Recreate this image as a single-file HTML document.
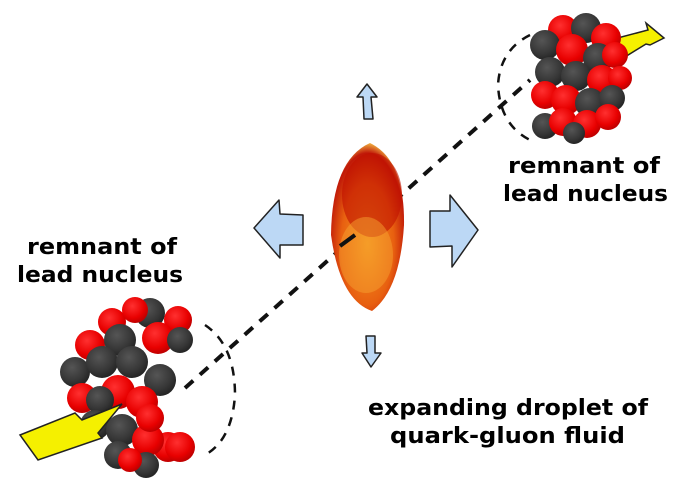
<!DOCTYPE html>
<html><head><meta charset="utf-8"><style>
html,body{margin:0;padding:0;background:#fff}
svg{display:block}
text{font-family:"DejaVu Sans","Liberation Sans",sans-serif;font-weight:bold;font-size:22px;fill:#000}
</style></head><body>
<svg width="677" height="491" viewBox="0 0 677 491">
<defs>
<radialGradient id="r" cx="40%" cy="35%" r="65%"><stop offset="0" stop-color="#ff3030"/><stop offset="0.7" stop-color="#e80000"/><stop offset="1" stop-color="#c00000"/></radialGradient>
<radialGradient id="k" cx="40%" cy="35%" r="65%"><stop offset="0" stop-color="#555"/><stop offset="0.7" stop-color="#363636"/><stop offset="1" stop-color="#252525"/></radialGradient>
<radialGradient id="d" cx="50%" cy="60%" r="60%"><stop offset="0" stop-color="#f59a20"/><stop offset="0.6" stop-color="#e86010"/><stop offset="0.9" stop-color="#c01808"/><stop offset="1" stop-color="#f0b040"/></radialGradient>
</defs>
<line x1="185" y1="388" x2="530" y2="80" stroke="#111" stroke-width="4" stroke-dasharray="11,9"/>
<path d="M370,143 Q405,160 404,225 Q400,290 372,311 Q340,300 331,235 Q332,160 370,143 Z" fill="url(#d)"/>
<ellipse cx="372" cy="195" rx="30" ry="42" fill="#c01000" opacity="0.6"/>
<ellipse cx="366" cy="255" rx="27" ry="38" fill="#f5a030" opacity="0.5"/>
<line x1="340" y1="246" x2="355" y2="235" stroke="#111" stroke-width="4"/>
<g fill="#bcd8f5" stroke="#222" stroke-width="1.5" stroke-linejoin="round">
<path d="M367,84 L377,97 L371,97 L373,119 L364,119 L363,97 L357,97 Z"/>
<path d="M366,336 L375,336 L375,353 L381,353 L371,367 L362,353 L367,353 Z"/>
<path d="M254,228 L279,200 L280,214 L303,215 L303,245 L280,245 L280,258 Z"/>
<path d="M430,211 L450,211 L450,195 L478,230 L452,267 L452,246 L430,247 Z"/>
</g>
<path d="M530,35 Q500,50 498,85 Q500,125 530,140" fill="none" stroke="#111" stroke-width="2.5" stroke-dasharray="9,8"/>
<path d="M610,40 L648,30 L646,23 L664,38 L650,45 L646,44 L620,60 Z" fill="#f5f000" stroke="#222" stroke-width="1.5"/>
<g>
<circle cx="563" cy="30" r="15" fill="url(#r)"/><circle cx="586" cy="28" r="15" fill="url(#k)"/><circle cx="606" cy="38" r="15" fill="url(#r)"/>
<circle cx="545" cy="45" r="15" fill="url(#k)"/><circle cx="572" cy="50" r="16" fill="url(#r)"/><circle cx="598" cy="58" r="15" fill="url(#k)"/><circle cx="615" cy="55" r="13" fill="url(#r)"/>
<circle cx="550" cy="72" r="15" fill="url(#k)"/><circle cx="576" cy="76" r="15" fill="url(#k)"/><circle cx="602" cy="80" r="15" fill="url(#r)"/><circle cx="620" cy="78" r="12" fill="url(#r)"/>
<circle cx="545" cy="95" r="14" fill="url(#r)"/><circle cx="566" cy="100" r="15" fill="url(#r)"/><circle cx="590" cy="103" r="15" fill="url(#k)"/><circle cx="612" cy="98" r="13" fill="url(#k)"/>
<circle cx="545" cy="126" r="13" fill="url(#k)"/><circle cx="563" cy="122" r="14" fill="url(#r)"/><circle cx="587" cy="124" r="14" fill="url(#r)"/><circle cx="608" cy="117" r="13" fill="url(#r)"/>
<circle cx="574" cy="133" r="11" fill="url(#k)"/>
</g>
<path d="M205,325 Q235,345 235,395 Q232,440 205,455" fill="none" stroke="#111" stroke-width="2.5" stroke-dasharray="9,8"/>
<g>
<circle cx="150" cy="313" r="15" fill="url(#k)"/><circle cx="178" cy="320" r="14" fill="url(#r)"/><circle cx="112" cy="322" r="14" fill="url(#r)"/><circle cx="135" cy="310" r="13" fill="url(#r)"/>
<circle cx="90" cy="345" r="15" fill="url(#r)"/><circle cx="120" cy="340" r="16" fill="url(#k)"/><circle cx="158" cy="338" r="16" fill="url(#r)"/><circle cx="180" cy="340" r="13" fill="url(#k)"/>
<circle cx="75" cy="372" r="15" fill="url(#k)"/><circle cx="102" cy="362" r="16" fill="url(#k)"/><circle cx="132" cy="362" r="16" fill="url(#k)"/><circle cx="160" cy="380" r="16" fill="url(#k)"/>
<circle cx="82" cy="398" r="15" fill="url(#r)"/><circle cx="118" cy="392" r="17" fill="url(#r)"/><circle cx="142" cy="402" r="16" fill="url(#r)"/><circle cx="100" cy="400" r="14" fill="url(#k)"/>
<circle cx="95" cy="425" r="15" fill="url(#k)"/><circle cx="122" cy="430" r="16" fill="url(#k)"/><circle cx="168" cy="447" r="15" fill="url(#r)"/><circle cx="148" cy="440" r="16" fill="url(#r)"/><circle cx="150" cy="418" r="14" fill="url(#r)"/><circle cx="180" cy="447" r="15" fill="url(#r)"/>
<circle cx="118" cy="455" r="14" fill="url(#k)"/><circle cx="146" cy="465" r="13" fill="url(#k)"/><circle cx="130" cy="460" r="12" fill="url(#r)"/>
</g>
<path d="M20,435 L75,413 L82,420 L122,404 L98,433 L102,438 L38,460 Z" fill="#f5f000" stroke="#222" stroke-width="1.5"/>
<text x="508" y="173" textLength="152" lengthAdjust="spacingAndGlyphs">remnant of</text>
<text x="503" y="201" textLength="165" lengthAdjust="spacingAndGlyphs">lead nucleus</text>
<text x="27" y="254" textLength="150" lengthAdjust="spacingAndGlyphs">remnant of</text>
<text x="17" y="282" textLength="166" lengthAdjust="spacingAndGlyphs">lead nucleus</text>
<text x="368" y="415" textLength="280" lengthAdjust="spacingAndGlyphs">expanding droplet of</text>
<text x="390" y="443" textLength="235" lengthAdjust="spacingAndGlyphs">quark-gluon fluid</text>
</svg>
</body></html>
